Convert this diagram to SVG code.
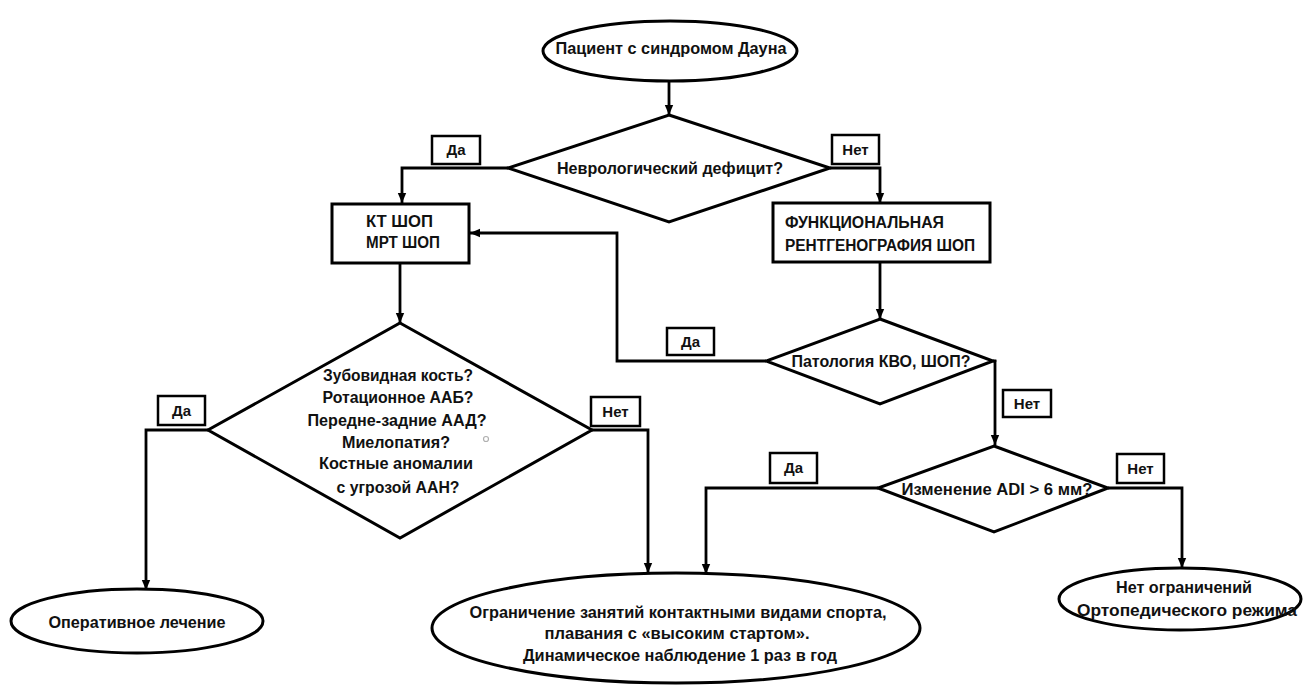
<svg xmlns="http://www.w3.org/2000/svg" width="1303" height="686" viewBox="0 0 1303 686">
<style>
  .shape { fill: #ffffff; stroke: #000000; stroke-width: 3; }
  .lbl { fill: #ffffff; stroke: #000000; stroke-width: 2.5; }
  .conn { fill: none; stroke: #000000; stroke-width: 2.8; }
  text { font-family: "Liberation Sans", Arial, sans-serif; font-weight: bold; font-size: 16px; fill: #111111; }
  .c { text-anchor: middle; }
  .s { font-size: 15px; }
</style>
<defs>
  <marker id="arr" markerUnits="userSpaceOnUse" markerWidth="10" markerHeight="10" viewBox="0 0 10 10" refX="10" refY="5" orient="auto">
    <path d="M0,0.8 L10,5 L0,9.2 Z" fill="#000000"/>
  </marker>
</defs>
<rect width="1303" height="686" fill="#ffffff"/>

<g id="connectors">
  <path class="conn" d="M669,81 L669,115" marker-end="url(#arr)"/>
  <path class="conn" d="M508,168 L402,168 L402,203" marker-end="url(#arr)"/>
  <path class="conn" d="M830,168 L880,168 L880,203" marker-end="url(#arr)"/>
  <path class="conn" d="M400,263 L400,323" marker-end="url(#arr)"/>
  <path class="conn" d="M880,262 L880,319" marker-end="url(#arr)"/>
  <path class="conn" d="M766,361 L617,361 L617,233 L470,233" marker-end="url(#arr)"/>
  <path class="conn" d="M993,361 L995,361 L995,445" marker-end="url(#arr)"/>
  <path class="conn" d="M208,430 L146,430 L146,590" marker-end="url(#arr)"/>
  <path class="conn" d="M592,430 L648,430 L648,573" marker-end="url(#arr)"/>
  <path class="conn" d="M878,488 L706,488 L706,574" marker-end="url(#arr)"/>
  <path class="conn" d="M1108,488 L1182,488 L1182,568" marker-end="url(#arr)"/>
</g>

<g id="start">
  <ellipse class="shape" cx="670" cy="51" rx="127" ry="30"/>
  <text class="c" x="671" y="54" textLength="231" lengthAdjust="spacingAndGlyphs">Пациент с синдромом Дауна</text>
</g>

<g id="neuro">
  <polygon class="shape" points="669,115 830,168 669,222 508,168"/>
  <text class="c" x="670" y="174" textLength="226" lengthAdjust="spacingAndGlyphs">Неврологический дефицит?</text>
</g>

<g id="ct-mri">
  <rect class="shape" x="332" y="204" width="137" height="59"/>
  <text x="366" y="227" textLength="67" lengthAdjust="spacingAndGlyphs">КТ ШОП</text>
  <text x="366" y="248" textLength="74" lengthAdjust="spacingAndGlyphs">МРТ ШОП</text>
</g>

<g id="xray">
  <rect class="shape" x="773" y="203" width="217" height="59"/>
  <text x="785" y="228" textLength="159" lengthAdjust="spacingAndGlyphs">ФУНКЦИОНАЛЬНАЯ</text>
  <text x="785" y="251" textLength="190" lengthAdjust="spacingAndGlyphs">РЕНТГЕНОГРАФИЯ ШОП</text>
</g>

<g id="anomalies">
  <polygon class="shape" points="400,323 592,430 400,538 208,430"/>
  <text class="c" x="398" y="381" textLength="150" lengthAdjust="spacingAndGlyphs">Зубовидная кость?</text>
  <text class="c" x="398" y="403" textLength="151" lengthAdjust="spacingAndGlyphs">Ротационное ААБ?</text>
  <text class="c" x="397" y="426" textLength="179" lengthAdjust="spacingAndGlyphs">Передне-задние ААД?</text>
  <text class="c" x="396" y="448" textLength="108" lengthAdjust="spacingAndGlyphs">Миелопатия?</text>
  <text class="c" x="396" y="469" textLength="154" lengthAdjust="spacingAndGlyphs">Костные аномалии</text>
  <text class="c" x="398" y="493" textLength="123" lengthAdjust="spacingAndGlyphs">с угрозой ААН?</text>
  <circle cx="486" cy="439" r="2.5" fill="none" stroke="#b0b0b0" stroke-width="1.2"/>
</g>

<g id="pathology">
  <polygon class="shape" points="880,319 993,361 880,404 766,361"/>
  <text class="c" x="881" y="367" textLength="179" lengthAdjust="spacingAndGlyphs">Патология КВО, ШОП?</text>
</g>

<g id="adi">
  <polygon class="shape" points="994,446 1108,488 994,532 878,488"/>
  <text class="c" x="997" y="495" textLength="191" lengthAdjust="spacingAndGlyphs">Изменение ADI &gt; 6 мм?</text>
</g>

<g id="surgery">
  <ellipse class="shape" cx="137" cy="621" rx="126" ry="32"/>
  <text class="c" x="137" y="628" textLength="177" lengthAdjust="spacingAndGlyphs">Оперативное лечение</text>
</g>

<g id="restriction">
  <ellipse class="shape" cx="676" cy="628" rx="244" ry="55"/>
  <text class="c" x="678" y="618" textLength="417" lengthAdjust="spacingAndGlyphs">Ограничение занятий контактными видами спорта,</text>
  <text class="c" x="677" y="639" textLength="265" lengthAdjust="spacingAndGlyphs">плавания с «высоким стартом».</text>
  <text class="c" x="680" y="661" textLength="314" lengthAdjust="spacingAndGlyphs">Динамическое наблюдение 1 раз в год</text>
</g>

<g id="no-restriction">
  <ellipse class="shape" cx="1180" cy="599" rx="121" ry="31"/>
  <text class="c" x="1184" y="593" textLength="136" lengthAdjust="spacingAndGlyphs">Нет ограничений</text>
  <text class="c" x="1187" y="616" textLength="220" lengthAdjust="spacingAndGlyphs">Ортопедического режима</text>
</g>

<g id="labels">
  <g id="l-neuro-yes"><rect class="lbl" x="432" y="136" width="48" height="28"/><text class="c s" x="456" y="155">Да</text></g>
  <g id="l-neuro-no"><rect class="lbl" x="832" y="135" width="47" height="29"/><text class="c s" x="855.5" y="155">Нет</text></g>
  <g id="l-anom-yes"><rect class="lbl" x="158" y="396" width="47" height="29"/><text class="c s" x="181.5" y="416">Да</text></g>
  <g id="l-anom-no"><rect class="lbl" x="591" y="397" width="49" height="29"/><text class="c s" x="615.5" y="417">Нет</text></g>
  <g id="l-path-yes"><rect class="lbl" x="667" y="328" width="47" height="27"/><text class="c s" x="690.5" y="347">Да</text></g>
  <g id="l-path-no"><rect class="lbl" x="1003" y="390" width="48" height="27"/><text class="c s" x="1027" y="409">Нет</text></g>
  <g id="l-adi-yes"><rect class="lbl" x="770" y="453" width="47" height="30"/><text class="c s" x="793.5" y="473">Да</text></g>
  <g id="l-adi-no"><rect class="lbl" x="1117" y="454" width="47" height="29"/><text class="c s" x="1140.5" y="474">Нет</text></g>
</g>
</svg>
